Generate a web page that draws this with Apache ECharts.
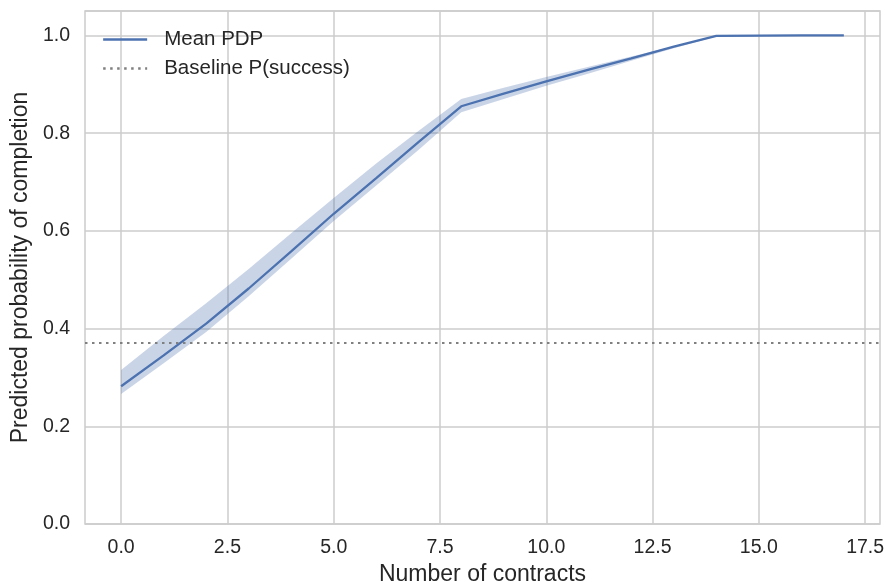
<!DOCTYPE html>
<html>
<head>
<meta charset="utf-8">
<script src="https://cdn.jsdelivr.net/npm/echarts@6/dist/echarts.min.js"></script>
<style>html,body{margin:0;padding:0;background:#fff}#c{width:886px;height:582px}</style>
</head>
<body>
<div id="c"></div>
<script>
var contracts = [0,1,2,3,4,5,6,7,8,9,10,11,12,13,14,15,16,17];
var meanPdp   = [0.282,0.345,0.410,0.482,0.558,0.635,0.708,0.782,0.855,0.881,0.906,0.930,0.953,0.977,0.999,0.9995,1.0,1.0];
var lowerBand = [0.266,0.329,0.393,0.466,0.543,0.620,0.693,0.766,0.843,0.870,0.897,0.922,0.948,0.974,0.998,0.999,1.0,1.0];
var upperBand = [0.315,0.385,0.452,0.522,0.595,0.667,0.738,0.805,0.870,0.893,0.915,0.936,0.957,0.978,1.0,1.0,1.0,1.0];
var baseline = 0.366;
var xTicks = [0,2.5,5,7.5,10,12.5,15,17.5];

var FONT = '"Liberation Sans", Arial, sans-serif';
var BLUE = '#4c72b0';
var GRIDC = '#cccccc';
var TXT = '#262626';

var chart = echarts.init(document.getElementById('c'), null, {renderer:'canvas'});
var meanData = contracts.map(function(x,i){return [x, meanPdp[i]];});
var bandData = contracts.map(function(x,i){return [x, lowerBand[i], upperBand[i]];});

chart.setOption({
  animation:false,
  textStyle:{fontFamily:FONT},
  grid:{left:85, right:6, top:11, bottom:58, show:true, borderColor:GRIDC, borderWidth:1.5,
        containLabel:false, outerBoundsMode:'none'},
  legend:{
    left:97, top:24, orient:'vertical', itemWidth:44, itemHeight:14, itemGap:8,
    data:['Mean PDP','Baseline P(success)'],
    itemStyle:{opacity:0},
    lineStyle:{width:2.3},
    textStyle:{fontFamily:FONT, fontSize:20.5, color:TXT, padding:[0,0,0,12]}
  },
  xAxis:{
    type:'value', min:-0.85, max:17.85,
    name:'Number of contracts', nameLocation:'middle', nameGap:35,
    nameTextStyle:{fontFamily:FONT, fontSize:23, color:TXT},
    axisLine:{show:false}, axisTick:{show:false},
    splitLine:{show:false},
    axisLabel:{customValues:xTicks, fontFamily:FONT, fontSize:19.5, color:TXT, margin:14,
      formatter:function(v){return v.toFixed(1);}}
  },
  yAxis:{
    type:'value', min:0, max:1.05, interval:0.2,
    name:'Predicted probability of completion', nameLocation:'middle', nameGap:43,
    nameTextStyle:{fontFamily:FONT, fontSize:23, color:TXT},
    axisLine:{show:false}, axisTick:{show:false},
    splitLine:{show:true, lineStyle:{color:GRIDC, width:1.5}},
    axisLabel:{fontFamily:FONT, fontSize:19.5, color:TXT, margin:15, showMaxLabel:false,
      formatter:function(v){return v.toFixed(1);}}
  },
  series:[
    {
      name:'grid', type:'line', data:[], silent:true, z:0,
      markLine:{silent:true, symbol:'none', label:{show:false}, z:0,
        lineStyle:{color:GRIDC, width:1.5, type:'solid'},
        data:xTicks.map(function(v){return {xAxis:v};})}
    },
    {
      name:'band', type:'custom', data:bandData, silent:true, z:2,
      encode:{x:0, y:[1,2]},
      renderItem:function(params, api){
        if (params.dataIndex !== 0) return null;
        var top = [], bot = [];
        for (var i=0;i<bandData.length;i++){
          top.push(api.coord([bandData[i][0], bandData[i][2]]));
          bot.push(api.coord([bandData[i][0], bandData[i][1]]));
        }
        var pts = top.concat(bot.reverse());
        return {type:'polygon', shape:{points:pts},
          style:{fill:BLUE, opacity:0.3, stroke:null}};
      }
    },
    {
      name:'Baseline P(success)', type:'line', data:[], symbol:'none',
      itemStyle:{color:'#808080'},
      lineStyle:{color:'#808080', width:2, type:[2.5,4.5]},
      markLine:{silent:true, symbol:'none', label:{show:false},
        lineStyle:{color:'#808080', width:2, type:[2.5,4.5]},
        data:[{yAxis:baseline}]}, z:3
    },
    {
      name:'Mean PDP', type:'line', data:meanData, symbol:'none',
      itemStyle:{color:BLUE},
      lineStyle:{color:BLUE, width:2.3}, z:4
    }
  ]
});
</script>
</body>
</html>
